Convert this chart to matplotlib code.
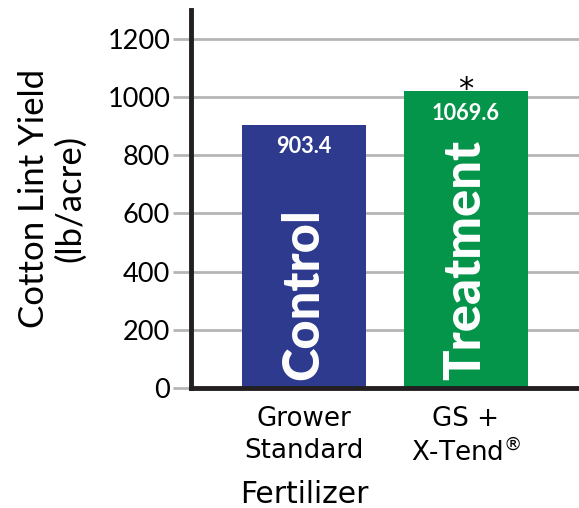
import matplotlib
matplotlib.use("Agg")
from matplotlib import pyplot as plt
from matplotlib import transforms

# data
groups = ["Grower\nStandard", "GS +\nX-Tend$^{®}$"]
bar_names = ["Control", "Treatment"]
heights = [903.4, 1020]          # bar tops as drawn
value_labels = ["903.4", "1069.6"]
marks = ["", "*"]
colors = ["#2d3a8e", "#05954a"]
yticks = [0, 200, 400, 600, 800, 1000, 1200]

plt.rcParams['font.family'] = ['Lato', 'DejaVu Sans']

fig = plt.figure(figsize=(5.79, 5.08), dpi=100)
ax = fig.add_axes([0.330, 0.236, 0.670, 0.745])

x = list(range(len(heights)))
ax.bar(x, heights, width=0.765, color=colors, zorder=2)

ax.set_xlim(-0.7, 1.7)
ax.set_ylim(0, 1300)
ax.set_yticks(yticks)
ax.set_yticklabels([str(t) for t in yticks], fontsize=19.5)
ax.yaxis.grid(True, color="#b5b5b5", linewidth=2, zorder=0)
ax.set_axisbelow(True)
ax.tick_params(axis="y", length=13, width=2, color="#b5b5b5", pad=2)

ax.set_xticks(x)
ax.set_xticklabels(groups, fontsize=18.8, linespacing=1.3, family="DejaVu Sans")
ax.tick_params(axis="x", length=0, pad=13)

for side in ["top", "right"]:
    ax.spines[side].set_visible(False)
for side in ["left", "bottom"]:
    ax.spines[side].set_color("#231f20")
    ax.spines[side].set_linewidth(3.5)
    ax.spines[side].set_zorder(3)

ax.set_ylabel("Cotton Lint Yield\n(lb/acre)", fontsize=25, linespacing=1.15, labelpad=15)

for xi, h, lab, name, m in zip(x, heights, value_labels, bar_names, marks):
    ax.text(xi, h - 75, lab, ha="center", va="center", color="white",
            fontsize=15.7, fontweight="bold", zorder=4)
    ax.text(xi, 28, name, ha="center", va="bottom", rotation=90, color="white",
            fontsize=36.5, fontweight="black", zorder=4)
    if m:
        ax.text(xi, h - 24, m, ha="center", va="baseline", fontsize=22,
                family="DejaVu Sans", zorder=4)

trans = transforms.blended_transform_factory(ax.transData, fig.transFigure)
fig.text(0, 0.01, "Fertilizer", transform=trans, ha="center", va="baseline",
         fontsize=21.4, family="DejaVu Sans")

fig.savefig("out.png", dpi=100)
